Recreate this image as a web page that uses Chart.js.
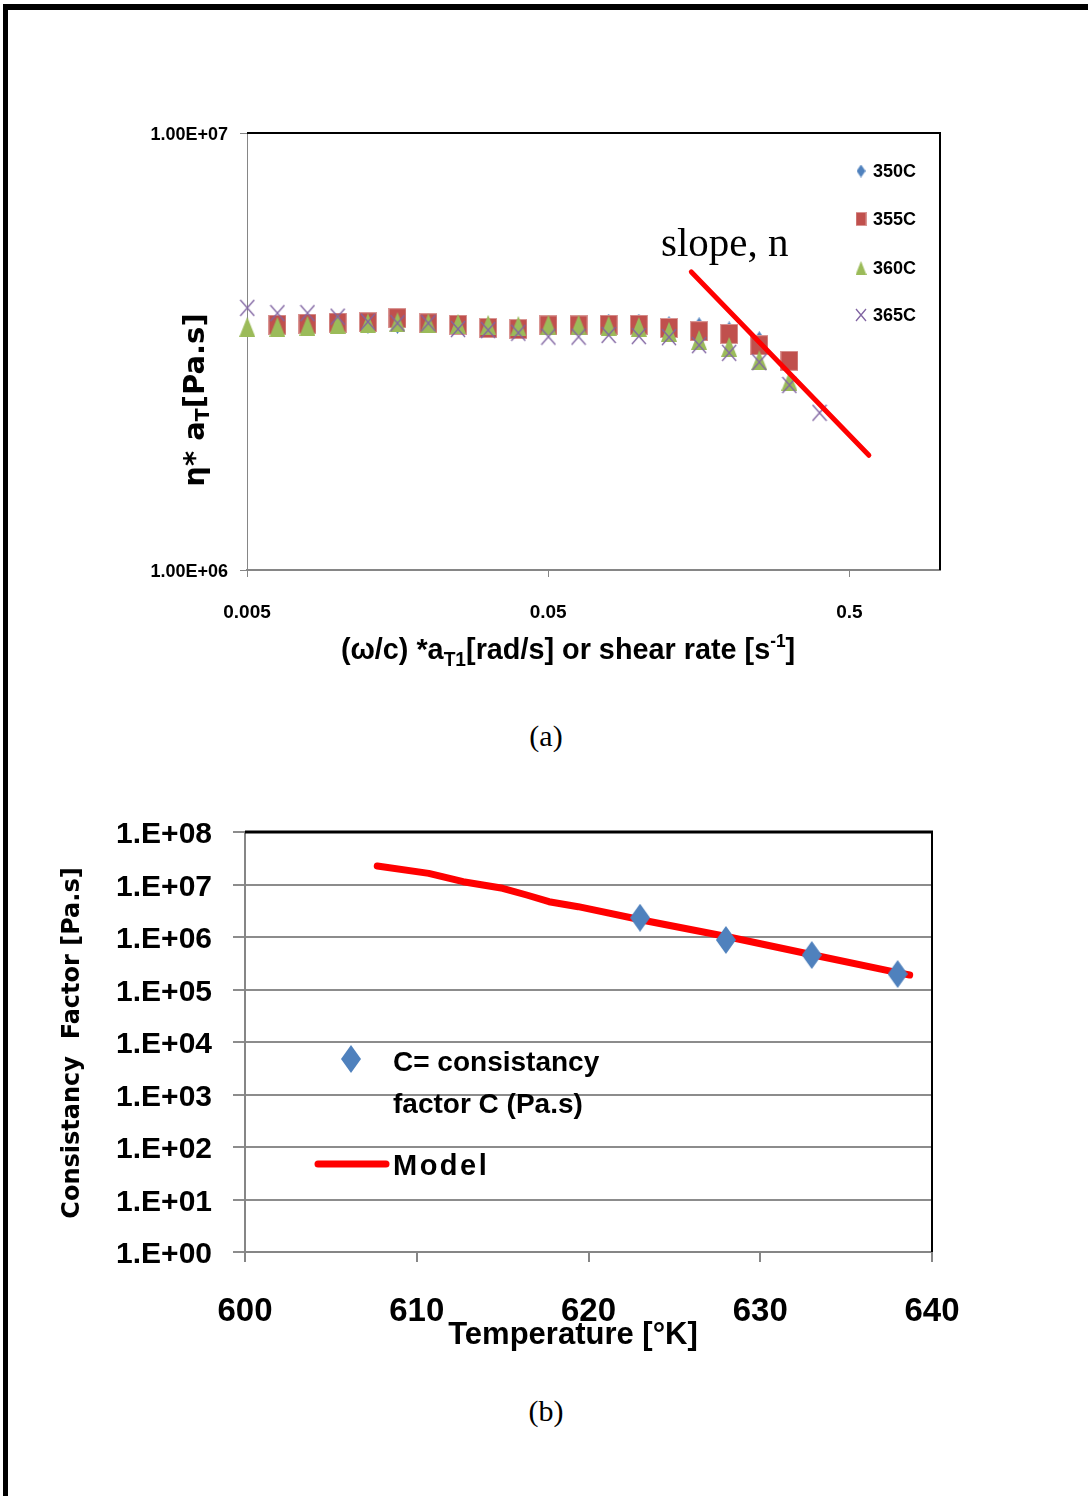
<!DOCTYPE html>
<html><head><meta charset="utf-8">
<script src="https://cdn.jsdelivr.net/npm/chart.js@4.4.1/dist/chart.umd.min.js"></script>
<style>
html,body{margin:0;padding:0;background:#fff;}
body{width:1088px;height:1496px;position:relative;overflow:hidden;}
#frame{position:absolute;left:3px;top:4px;width:1100px;height:1510px;border-top:6px solid #000;border-left:5px solid #000;}
.wrap{position:absolute;left:0;}
.cap{position:absolute;width:200px;left:446px;text-align:center;font-family:"Liberation Serif","Times New Roman",serif;font-size:30px;color:#000;line-height:34px;}
</style></head><body>
<div id="frame"></div>
<div class="wrap" style="top:100px;width:1000px;height:580px"><canvas id="ca" width="1000" height="580"></canvas></div>
<div class="cap" style="top:719px">(a)</div>
<div class="wrap" style="top:780px;width:1000px;height:600px"><canvas id="cb" width="1000" height="600"></canvas></div>
<div class="cap" style="top:1394px">(b)</div>
<script>
// ---------- data: chart (a) ----------
const shearRate = [0.00501,0.00631,0.00794,0.0100,0.0126,0.0158,0.0200,0.0251,0.0316,0.0398,0.0501,0.0631,0.0794,0.1000,0.1259,0.1585,0.1995,0.2512,0.3162,0.3981];
const eta350 = [null,3.62e6,3.64e6,3.65e6,3.59e6,3.59e6,3.64e6,3.62e6,3.60e6,3.58e6,3.62e6,3.66e6,3.73e6,3.73e6,3.68e6,3.66e6,3.58e6,3.40e6,null,null];
const eta355 = [null,3.64e6,3.66e6,3.68e6,3.69e6,3.77e6,3.67e6,3.64e6,3.58e6,3.56e6,3.63e6,3.63e6,3.64e6,3.64e6,3.58e6,3.52e6,3.47e6,3.27e6,3.01e6,null];
const eta360 = [3.60e6,3.60e6,3.62e6,3.66e6,3.67e6,3.69e6,3.67e6,3.66e6,3.64e6,3.62e6,3.64e6,3.64e6,3.62e6,3.60e6,3.51e6,3.36e6,3.24e6,3.02e6,2.71e6,null];
const eta365 = [3.98e6,3.87e6,3.87e6,3.80e6,3.70e6,3.67e6,3.67e6,3.56e6,3.54e6,3.49e6,3.42e6,3.42e6,3.45e6,3.43e6,3.41e6,3.27e6,3.14e6,2.99e6,2.65e6,2.29e6];
const seriesNamesA = ['350C','355C','360C','365C'];
const slopeX = [0.1494, 0.5806];
const slopeY = [4.81e6, 1.83e6];
const slopeLabel = 'slope, n';
const xTicksA = [0.005, 0.05, 0.5];
const xTickLabelsA = ['0.005', '0.05', '0.5'];
const yTicksA = [1e6, 1e7];
const yTickLabelsA = ['1.00E+06', '1.00E+07'];

// ---------- data: chart (b) ----------
const tempK = [623, 628, 633, 638];
const consistency = [2.33e6, 8.77e5, 4.54e5, 1.97e5];
const modelT = [607.7, 610.7, 612.7, 615.0, 616.4, 617.7, 619.4, 623.1, 628.1, 633.1, 638.0, 638.7];
const modelC = [2.25e7, 1.63e7, 1.13e7, 8.47e6, 6.31e6, 4.70e6, 3.78e6, 2.11e6, 1.01e6, 4.54e5, 2.09e5, 1.89e5];
const yTicksB = [1, 10, 100, 1e3, 1e4, 1e5, 1e6, 1e7, 1e8];
const yTickLabelsB = ['1.E+00','1.E+01','1.E+02','1.E+03','1.E+04','1.E+05','1.E+06','1.E+07','1.E+08'];
const xTicksB = [600, 610, 620, 630, 640];
const legendB = ['C= consistancy', 'factor C (Pa.s)', 'Model'];

// ---------- styles ----------
const SANS = '"Liberation Sans",Arial,sans-serif';
const WIDE = '"DejaVu Sans",Verdana,sans-serif';
const SERIF = '"Liberation Serif","Times New Roman",serif';
const AXIS_GRAY = '#868686';

// optional horizontal text compression around the anchor
function patchCtx(ctx) {
  const orig = ctx.fillText;
  ctx.__condense = 1;
  ctx.fillText = function (t, x, y, mw) {
    const f = this.__condense;
    if (f && f !== 1) {
      const w = this.measureText(t).width * f;
      return orig.call(this, t, x, y, mw === undefined ? w : Math.min(mw, w));
    }
    return mw === undefined ? orig.call(this, t, x, y) : orig.call(this, t, x, y, mw);
  };
  return ctx;
}

function marker(w, h, fn) {
  const c = document.createElement('canvas'); c.width = w; c.height = h;
  fn(c.getContext('2d'), w, h); return c;
}
function diamond(w, h, col) { return marker(w, h, (g) => { g.fillStyle = col; g.beginPath(); g.moveTo(w/2,0); g.lineTo(w,h/2); g.lineTo(w/2,h); g.lineTo(0,h/2); g.closePath(); g.fill(); }); }
function square(w, h, col) { return marker(w, h, (g) => { g.fillStyle = '#d99694'; g.fillRect(0,0,w,h); g.fillStyle = col; g.fillRect(1,1,w-2,h-2); }); }
function triangle(w, h, col) { return marker(w, h, (g) => { g.fillStyle = col; g.beginPath(); g.moveTo(w/2,0); g.lineTo(w,h); g.lineTo(0,h); g.closePath(); g.fill(); }); }
function cross(w, h, col) { return marker(w, h, (g) => { g.strokeStyle = col; g.lineWidth = 1.3; g.beginPath(); g.moveTo(1,1); g.lineTo(w-1,h-1); g.moveTo(w-1,1); g.lineTo(1,h-1); g.stroke(); }); }

const COLS = ['#4F81BD', '#C0504D', '#9BBB59', '#8064A2'];
const ptA = [diamond(9,13,COLS[0]), square(18,20,COLS[1]), triangle(16,20,COLS[2]), cross(16,18,COLS[3])];
const lgA = [diamond(9,13,COLS[0]), square(11,14,COLS[1]), triangle(11,14,COLS[2]), cross(12,14,COLS[3])];
const ptB = diamond(20, 28, '#4F81BD');

function pts(xs, ys) { return xs.map((x, i) => ({x: x, y: ys[i]})).filter(p => p.y !== null); }

function runs(ctx, list, x, y, f) {
  let total = 0;
  ctx.__condense = f;
  list.forEach(r => { ctx.font = r.f; r.w = ctx.measureText(r.t).width * f; total += r.w; });
  let cx = x - total / 2;
  ctx.textAlign = 'left';
  list.forEach(r => { ctx.font = r.f; ctx.fillText(r.t, cx, y + (r.dy || 0)); cx += r.w; });
  ctx.__condense = 1;
}
function txt(ctx, t, x, y, font, f, align, spacing) {
  ctx.font = font; ctx.textAlign = align || 'left'; ctx.__condense = f;
  if (spacing) ctx.letterSpacing = spacing;
  ctx.fillText(t, x, y); ctx.__condense = 1;
  if (spacing) ctx.letterSpacing = '0px';
}

function build() {
  // ---------------- chart (a) ----------------
  const seriesA = [eta350, eta355, eta360, eta365];
  const dsA = seriesA.map((arr, i) => ({
    label: seriesNamesA[i], data: pts(shearRate, arr), showLine: false,
    pointStyle: ptA[i], pointRadius: 6, order: 4 - i, clip: false, legendIcon: lgA[i]
  }));
  dsA.push({ label: slopeLabel, data: pts(slopeX, slopeY), showLine: true, borderColor: '#FF0000',
    borderWidth: 5, pointRadius: 0, order: 0, clip: false, borderCapStyle: 'round' });

  const extrasA = {
    id: 'extrasA',
    afterDraw(chart) {
      const ctx = chart.ctx, a = chart.chartArea;
      ctx.save();
      ctx.strokeStyle = '#000'; ctx.lineWidth = 2;
      ctx.beginPath(); ctx.moveTo(a.left, a.top); ctx.lineTo(a.right, a.top); ctx.lineTo(a.right, a.bottom); ctx.stroke();
      ctx.fillStyle = '#000'; ctx.textBaseline = 'alphabetic';
      // x title
      runs(ctx, [
        {t: '(\u03c9/c) *a', f: 'bold 30px ' + SANS},
        {t: 'T1', f: 'bold 20px ' + SANS, dy: 7},
        {t: '[rad/s] or shear rate [s', f: 'bold 30px ' + SANS},
        {t: '-1', f: 'bold 18px ' + SANS, dy: -12},
        {t: ']', f: 'bold 30px ' + SANS}
      ], 568, 559, 0.96);
      // y title
      ctx.save(); ctx.translate(194, 300); ctx.rotate(-Math.PI / 2);
      runs(ctx, [
        {t: '\u03b7* a', f: 'bold 29px ' + WIDE},
        {t: 'T', f: 'bold 19px ' + WIDE, dy: 5},
        {t: '[Pa.s]', f: 'bold 29px ' + WIDE}
      ], 0, 10, 1);
      ctx.restore();
      // annotation
      txt(ctx, slopeLabel, 661, 156, '41px ' + SERIF, 1, 'left');
      // legend
      const ys = [72, 120, 169, 216];
      chart.data.datasets.forEach((d, i) => {
        if (!d.legendIcon) return;
        const ic = d.legendIcon;
        ctx.drawImage(ic, 861 - ic.width / 2, ys[i] - 1 - ic.height / 2);
        ctx.textBaseline = 'middle';
        txt(ctx, d.label, 873, ys[i], 'bold 18px ' + SANS, 1, 'left');
      });
      ctx.restore();
    }
  };

  const ctxA = patchCtx(document.getElementById('ca').getContext('2d'));
  new Chart(ctxA, {
    type: 'scatter',
    data: { datasets: dsA },
    options: {
      responsive: false, animation: false, events: [],
      layout: { padding: { left: 0, top: 33, right: 60, bottom: 0 } },
      plugins: { legend: { display: false }, tooltip: { enabled: false } },
      scales: {
        x: {
          type: 'logarithmic', min: 0.005, max: 1.0,
          afterBuildTicks: s => { s.ticks = xTicksA.map(v => ({value: v})); },
          afterFit: s => { s.height = 110; },
          ticks: { callback: (v) => xTickLabelsA[xTicksA.indexOf(v)], color: '#000', padding: 24,
            font: { family: SANS, size: 19, weight: 'bold' }, autoSkip: false, maxRotation: 0 },
          grid: { drawOnChartArea: false, drawTicks: true, tickLength: 7, color: AXIS_GRAY, lineWidth: 1 },
          border: { display: true, color: AXIS_GRAY, width: 2 }
        },
        y: {
          type: 'logarithmic', min: 1e6, max: 1e7,
          afterBuildTicks: s => { s.ticks = yTicksA.map(v => ({value: v})); },
          afterFit: s => { s.width = 247; },
          ticks: { callback: (v) => yTickLabelsA[yTicksA.indexOf(v)], color: '#000', padding: 12, labelOffset: 2,
            font: { family: SANS, size: 18, weight: 'bold' }, autoSkip: false },
          grid: { drawOnChartArea: false, drawTicks: true, tickLength: 7, color: AXIS_GRAY, lineWidth: 1 },
          border: { display: true, color: AXIS_GRAY, width: 1 }
        }
      }
    },
    plugins: [extrasA]
  });

  // ---------------- chart (b) ----------------
  const extrasB = {
    id: 'extrasB',
    afterDraw(chart) {
      const ctx = chart.ctx, a = chart.chartArea;
      ctx.save();
      ctx.strokeStyle = '#000';
      ctx.lineWidth = 3; ctx.beginPath(); ctx.moveTo(a.left, a.top); ctx.lineTo(a.right + 1, a.top); ctx.stroke();
      ctx.lineWidth = 2; ctx.beginPath(); ctx.moveTo(a.right, a.top); ctx.lineTo(a.right, a.bottom); ctx.stroke();
      ctx.fillStyle = '#000'; ctx.textBaseline = 'middle';
      txt(ctx, 'Temperature [\u00b0K]', 573, 555, 'bold 31px ' + SANS, 1, 'center');
      ctx.save(); ctx.translate(73, 263); ctx.rotate(-Math.PI / 2);
      txt(ctx, 'Consistancy  Factor [Pa.s]', 0, 0, 'bold 24px ' + WIDE, 1, 'center');
      ctx.restore();
      // legend
      ctx.drawImage(ptB, 351 - ptB.width / 2, 279 - ptB.height / 2);
      txt(ctx, legendB[0], 393, 283, 'bold 28px ' + SANS, 1, 'left');
      txt(ctx, legendB[1], 393, 325, 'bold 28px ' + SANS, 1, 'left');
      ctx.strokeStyle = '#FF0000'; ctx.lineWidth = 7; ctx.lineCap = 'round';
      ctx.beginPath(); ctx.moveTo(318, 384); ctx.lineTo(386, 384); ctx.stroke();
      txt(ctx, legendB[2], 393, 387, 'bold 29px ' + SANS, 1, 'left', '2.5px');
      ctx.restore();
    }
  };

  const ctxB = patchCtx(document.getElementById('cb').getContext('2d'));
  new Chart(ctxB, {
    type: 'scatter',
    data: { datasets: [
      { label: legendB[0] + ' ' + legendB[1], data: pts(tempK, consistency), showLine: false,
        pointStyle: ptB, pointRadius: 10, order: 0, clip: false },
      { label: legendB[2], data: pts(modelT, modelC), showLine: true, borderColor: '#FF0000',
        borderWidth: 7, pointRadius: 0, order: 1, borderCapStyle: 'round', borderJoinStyle: 'round', clip: false }
    ] },
    options: {
      responsive: false, animation: false, events: [],
      layout: { padding: { left: 0, top: 52, right: 68, bottom: 0 } },
      plugins: { legend: { display: false }, tooltip: { enabled: false } },
      scales: {
        x: {
          type: 'linear', min: 600, max: 640,
          afterBuildTicks: s => { s.ticks = xTicksB.map(v => ({value: v})); },
          afterFit: s => { s.height = 128; },
          ticks: { color: '#000', padding: 30, font: { family: SANS, size: 33, weight: 'bold' }, maxRotation: 0, autoSkip: false },
          grid: { drawOnChartArea: false, drawTicks: true, tickLength: 10, color: AXIS_GRAY, lineWidth: 2 },
          border: { display: true, color: AXIS_GRAY, width: 2 }
        },
        y: {
          type: 'logarithmic', min: 1, max: 1e8,
          afterBuildTicks: s => { s.ticks = yTicksB.map(v => ({value: v})); },
          afterFit: s => { s.width = 245; },
          ticks: { callback: (v) => yTickLabelsB[yTicksB.indexOf(v)], color: '#000', padding: 21, labelOffset: 3,
            font: { family: SANS, size: 30, weight: 'bold' }, autoSkip: false },
          grid: { drawOnChartArea: true, drawTicks: true, tickLength: 12, color: '#8c8c8c', lineWidth: 2 },
          border: { display: true, color: AXIS_GRAY, width: 2 }
        }
      }
    },
    plugins: [extrasB]
  });
}

if (document.fonts && document.fonts.load) {
  Promise.all([
    document.fonts.load('bold 20px "Liberation Sans"'),
    document.fonts.load('bold 20px "DejaVu Sans"'),
    document.fonts.load('20px "Liberation Serif"')
  ]).then(build, build);
} else { build(); }
</script>
</body></html>
